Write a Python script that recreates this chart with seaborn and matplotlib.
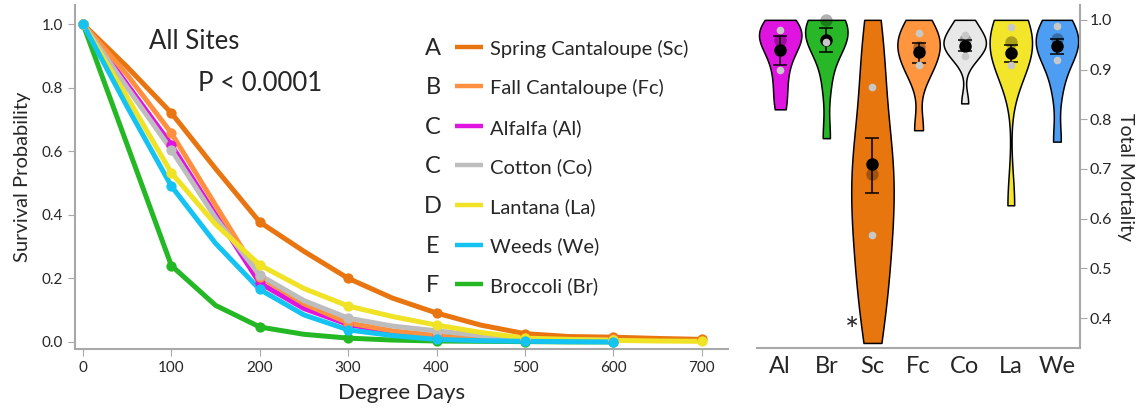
import numpy as np
import pandas as pd
import matplotlib.pyplot as plt
import seaborn as sns

sns.set_style("white")
plt.rcParams['font.family'] = ['Lato', 'DejaVu Sans']

# ---- survival curves (read every 50 degree days) ----
degree_days = [0, 50, 100, 150, 200, 250, 300, 350, 400, 450, 500, 550, 600, 650, 700]
surv_sc = [1.0, 0.865, 0.72, 0.545, 0.377, 0.285, 0.20, 0.138, 0.091, 0.053, 0.026, 0.017, 0.015, 0.011, 0.008]
surv_fc = [1.0, 0.84, 0.657, 0.43, 0.205, 0.12, 0.06, 0.035, 0.02, 0.012, 0.008, 0.008, 0.008]
surv_al = [1.0, 0.81, 0.62, 0.40, 0.185, 0.105, 0.055, 0.03, 0.018, 0.01, 0.006, 0.004, 0.003]
surv_co = [1.0, 0.80, 0.604, 0.39, 0.21, 0.13, 0.075, 0.05, 0.035, 0.02, 0.01, 0.006, 0.005]
surv_la = [1.0, 0.77, 0.532, 0.37, 0.242, 0.168, 0.113, 0.08, 0.053, 0.03, 0.012, 0.008, 0.005, 0.003, 0.002]
surv_we = [1.0, 0.74, 0.49, 0.31, 0.165, 0.085, 0.038, 0.02, 0.008, 0.004, 0.002, 0.001, 0.0]
surv_br = [1.0, 0.62, 0.24, 0.115, 0.047, 0.024, 0.012, 0.006, 0.003, 0.002, 0.001, 0.0, 0.0]

crop_codes = ["Sc", "Fc", "Al", "Co", "La", "We", "Br"]
crop_names = ["Spring Cantaloupe (Sc)", "Fall Cantaloupe (Fc)", "Alfalfa (Al)", "Cotton (Co)",
              "Lantana (La)", "Weeds (We)", "Broccoli (Br)"]
crop_letters = ["A", "B", "C", "C", "D", "E", "F"]
line_colors = {"Sc": "#E8750F", "Fc": "#FF9040", "Al": "#E014E0", "Co": "#BDBDBD",
               "La": "#F0E224", "We": "#14C3F2", "Br": "#25B825"}
draw_order = ["Br", "Sc", "Al", "Fc", "Co", "La", "We"]

# ---- total mortality per crop ----
cats = ["Al", "Br", "Sc", "Fc", "Co", "La", "We"]
violin_colors = {"Al": "#E014E0", "Br": "#27B727", "Sc": "#E8760E", "Fc": "#FF963F",
                 "Co": "#E8E8E8", "La": "#F2E52A", "We": "#4D9EF2"}
obs_al = [1.0, 0.99, 0.98, 0.97, 0.96, 0.95, 0.93, 0.90, 0.86, 0.82]
obs_br = [1.0, 1.0, 0.99, 0.98, 0.96, 0.955, 0.94, 0.87, 0.762]
obs_sc = [1.0, 0.93, 0.87, 0.80, 0.74, 0.71, 0.69, 0.64, 0.60, 0.57, 0.52, 0.47, 0.42, 0.35]
obs_fc = [1.0, 0.975, 0.96, 0.95, 0.935, 0.91, 0.89, 0.778]
obs_co = [0.99, 0.97, 0.96, 0.955, 0.95, 0.945, 0.93, 0.92, 0.832, 1.0]
obs_la = [1.0, 0.985, 0.96, 0.955, 0.94, 0.925, 0.91, 0.627]
obs_we = [1.0, 0.99, 0.965, 0.96, 0.95, 0.93, 0.92, 0.86, 0.755]
site_dots = {"Al": [0.98, 0.90], "Br": [0.955], "Sc": [0.865, 0.568], "Fc": [0.973, 0.91],
             "Co": [0.97, 0.928], "La": [0.985, 0.91], "We": [0.988, 0.92]}
medians = [0.96, 1.0, 0.69, 0.945, 0.96, 0.955, 0.962]
means = [0.94, 0.96, 0.71, 0.935, 0.948, 0.933, 0.948]
err_lo = [0.91, 0.935, 0.652, 0.913, 0.937, 0.915, 0.932]
err_hi = [0.967, 0.983, 0.763, 0.953, 0.96, 0.95, 0.962]

surv = {"Sc": surv_sc, "Fc": surv_fc, "Al": surv_al, "Co": surv_co,
        "La": surv_la, "We": surv_we, "Br": surv_br}
rows = []
for code, vals in surv.items():
    for d, v in zip(degree_days, vals):
        rows.append((code, d, v))
surv_df = pd.DataFrame(rows, columns=["crop", "dd", "surv"])
pts_df = surv_df[surv_df["dd"] % 100 == 0]

obs = {"Al": obs_al, "Br": obs_br, "Sc": obs_sc, "Fc": obs_fc, "Co": obs_co, "La": obs_la, "We": obs_we}
mort_df = pd.DataFrame([(c, v) for c in cats for v in obs[c]], columns=["crop", "mort"])
dots_df = pd.DataFrame([(c, v) for c in cats for v in site_dots[c]], columns=["crop", "mort"])

fig = plt.figure(figsize=(11.42, 4.11), dpi=100)
ax1 = fig.add_axes([0.0657, 0.151, 0.572, 0.837])
ax2 = fig.add_axes([0.663, 0.153, 0.2827, 0.835])

# left panel
sns.lineplot(data=surv_df, x="dd", y="surv", hue="crop", hue_order=draw_order, palette=line_colors,
             linewidth=3.6, legend=False, ax=ax1)
for code in draw_order:
    sub = pts_df[pts_df["crop"] == code]
    sns.scatterplot(data=sub, x="dd", y="surv", color=line_colors[code], s=55, linewidth=0,
                    legend=False, ax=ax1, zorder=3)
ax1.set_xlim(-9, 730)
ax1.set_ylim(-0.022, 1.06)
ax1.set_xticks(range(0, 701, 100))
ax1.set_yticks(np.arange(0, 1.01, 0.2))
ax1.set_yticklabels(["0.0", "0.2", "0.4", "0.6", "0.8", "1.0"])
ax1.set_xlabel("Degree Days", fontsize=16, labelpad=6)
ax1.set_ylabel("Survival Probability", fontsize=14.5, labelpad=8)
for s in ["top", "right"]:
    ax1.spines[s].set_visible(False)
for s in ["left", "bottom"]:
    ax1.spines[s].set_color("#A8A8A8")
    ax1.spines[s].set_linewidth(1.5)
ax1.tick_params(axis="both", labelsize=11, length=5, color="#A8A8A8", left=True, bottom=True)
ax1.text(0.113, 0.872, "All Sites", transform=ax1.transAxes, fontsize=18.5, va="baseline")
ax1.text(0.188, 0.750, "P < 0.0001", transform=ax1.transAxes, fontsize=18.5, va="baseline")

for i, (code, name, letter) in enumerate(zip(crop_codes, crop_names, crop_letters)):
    py = 46.7 + 39.6 * i
    y = (349 - py) / 344
    yb = (349 - py - 8) / 344
    ax1.text(0.548, yb, letter, transform=ax1.transAxes, fontsize=17, ha="center", va="baseline")
    ax1.plot([0.582, 0.625], [y, y], transform=ax1.transAxes, color=line_colors[code],
             linewidth=3.2, solid_capstyle="butt", clip_on=False)
    ax1.text(0.636, yb, name, transform=ax1.transAxes, fontsize=14.5, va="baseline")

# right panel
sns.violinplot(data=mort_df, x="crop", y="mort", hue="crop", order=cats, hue_order=cats,
               palette=violin_colors, cut=0, density_norm="width", inner=None, width=0.92,
               linewidth=1.1, linecolor="black", saturation=1, bw_adjust=0.8, legend=False, ax=ax2)
xpos = np.arange(len(cats))
ax2.scatter(xpos, medians, s=80, color="black", alpha=0.3, linewidth=0, zorder=4)
ax2.errorbar(xpos, means, yerr=[np.array(means) - np.array(err_lo), np.array(err_hi) - np.array(means)],
             fmt="o", color="black", ms=8, capsize=5, elinewidth=1.1, capthick=1.1, zorder=5)
sns.stripplot(data=dots_df, x="crop", y="mort", order=cats, jitter=False, color="#C8C8C8",
              size=5.5, linewidth=0, ax=ax2, zorder=6)
ax2.text(1.56, 0.372, "*", fontsize=24, ha="center", va="center")
ax2.set_xlim(-0.5, 6.5)
ax2.set_ylim(0.3396, 1.03)
ax2.yaxis.tick_right()
ax2.yaxis.set_label_position("right")
ax2.set_yticks([0.4, 0.5, 0.6, 0.7, 0.8, 0.9, 1.0])
ax2.set_ylabel("Total Mortality", fontsize=14, rotation=270, labelpad=16)
ax2.set_xlabel("")
for s in ["top", "left"]:
    ax2.spines[s].set_visible(False)
for s in ["right", "bottom"]:
    ax2.spines[s].set_color("#A8A8A8")
    ax2.spines[s].set_linewidth(1.5)
ax2.tick_params(axis="y", labelsize=11.5, length=5, color="#A8A8A8", right=True, left=False, pad=2)
ax2.tick_params(axis="x", labelsize=17, length=0, pad=6)

fig.savefig("out.png", dpi=100)
